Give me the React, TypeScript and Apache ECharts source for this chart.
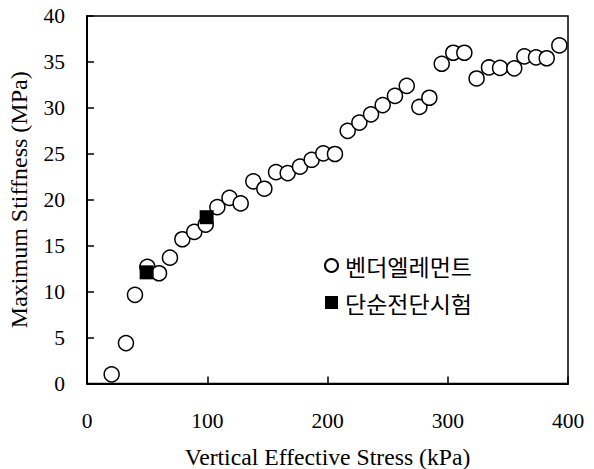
import React, { useEffect, useRef } from "react";
import * as echarts from "echarts";

const bxStress = [20.5, 32.4, 39.9, 50.2, 59.9, 69, 79.3, 89.2, 98.7, 108.4, 118.5, 127.8, 138.3, 147.5, 157.2, 166.9, 177.1, 186.8, 196.5, 206.2, 216.8, 226.5, 236.2, 245.9, 256.1, 265.9, 276.4, 284.7, 295, 304.6, 313.8, 324, 334.3, 343.5, 355.3, 363.7, 373.4, 382.3, 392.8];
const bxStiff = [1.0, 4.4, 9.65, 12.7, 12.0, 13.7, 15.7, 16.5, 17.3, 19.2, 20.2, 19.6, 22.0, 21.2, 23.0, 22.9, 23.6, 24.35, 25.05, 24.98, 27.5, 28.4, 29.3, 30.3, 31.3, 32.4, 30.1, 31.1, 34.8, 36.0, 36.0, 33.2, 34.4, 34.35, 34.3, 35.6, 35.5, 35.4, 36.8];
const dsStress = [49.6, 99.5];
const dsStiff = [12.1, 18.1];

const seriesNames = ["벤더엘레먼트", "단순전단시험"];
const xTitle = "Vertical Effective Stress (kPa)";
const yTitle = "Maximum Stiffness (MPa)";

export default function App() {
  const ref = useRef<HTMLDivElement>(null);
  useEffect(() => {
    if (!ref.current) return;
    const chart = echarts.init(ref.current, null, { renderer: "svg" });
    const serif = "Liberation Serif";
    chart.setOption({
      animation: false,
      backgroundColor: "#fff",
      grid: {
        left: 87,
        right: 26,
        top: 16,
        bottom: 85.5,
        show: true,
        borderColor: "#000",
        borderWidth: 1.5,
        containLabel: false,
        outerBoundsMode: "none",
      },
      legend: {
        orient: "vertical",
        left: 319,
        top: 249,
        itemWidth: 13,
        itemHeight: 13,
        itemGap: 14,
        data: seriesNames,
        textStyle: {
          fontFamily: "Noto Sans CJK KR",
          fontSize: 23,
          color: "#000",
          padding: [0, 0, 0, 2],
        },
      },
      xAxis: {
        type: "value",
        min: 0,
        max: 400,
        interval: 100,
        name: xTitle,
        nameLocation: "middle",
        nameGap: 61,
        nameTextStyle: { fontFamily: serif, fontSize: 23.7, color: "#000" },
        axisLine: { show: true, lineStyle: { color: "#000", width: 2 } },
        axisTick: { show: true, inside: true, length: 7, lineStyle: { color: "#000", width: 1.5 } },
        axisLabel: { fontFamily: serif, fontSize: 21.5, color: "#000", margin: 26 },
        splitLine: { show: false },
      },
      yAxis: {
        type: "value",
        min: 0,
        max: 40,
        interval: 5,
        name: yTitle,
        nameLocation: "middle",
        nameGap: 56,
        nameRotate: 90,
        nameTextStyle: { fontFamily: serif, fontSize: 24, color: "#000" },
        axisLine: { show: true, lineStyle: { color: "#000", width: 2 } },
        axisTick: { show: true, inside: true, length: 7, lineStyle: { color: "#000", width: 1.5 } },
        axisLabel: { fontFamily: serif, fontSize: 21.5, color: "#000", margin: 22 },
        splitLine: { show: false },
      },
      series: [
        {
          name: seriesNames[0],
          type: "scatter",
          symbol: "circle",
          symbolSize: 15,
          itemStyle: { color: "#fff", borderColor: "#000", borderWidth: 1.5, opacity: 1 },
          data: bxStress.map((x, i) => [x, bxStiff[i]]),
          z: 2,
        },
        {
          name: seriesNames[1],
          type: "scatter",
          symbol: "rect",
          symbolSize: 14,
          itemStyle: { color: "#000", opacity: 1 },
          data: dsStress.map((x, i) => [x, dsStiff[i]]),
          z: 3,
        },
      ],
    });
    return () => chart.dispose();
  }, []);
  return <div ref={ref} style={{ width: 594, height: 469, position: "absolute", left: 0, top: 0 }} />;
}
